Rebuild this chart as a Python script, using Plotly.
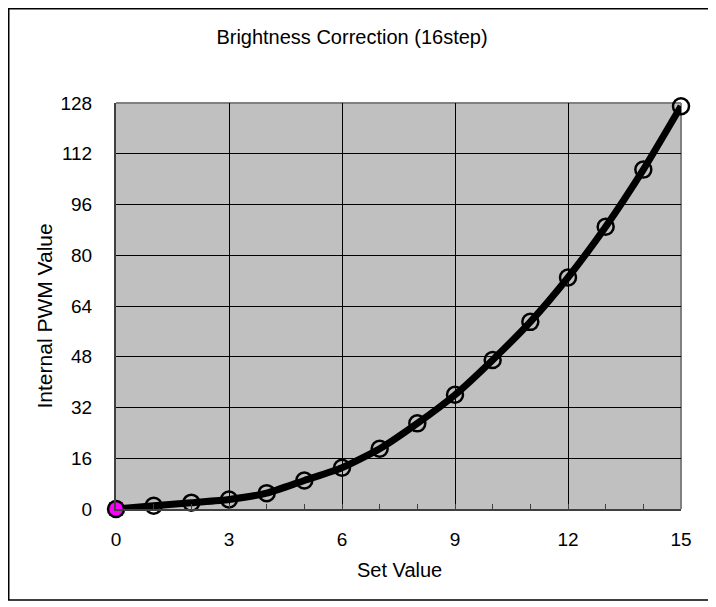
import plotly.graph_objects as go

set_values = list(range(16))
pwm_values = [0, 1, 2, 3, 5, 9, 13, 19, 27, 36, 47, 59, 73, 89, 107, 127]
x_ticks = [0, 3, 6, 9, 12, 15]
y_ticks = [0, 16, 32, 48, 64, 80, 96, 112, 128]
start_x = [0]
start_y = [0]

FONT = "Liberation Sans, Arial, sans-serif"

# figure is placed by the page at an 8px offset; size it to fill the window
W, H = 708, 599
L, T, R, B = 108, 95, 35, 98
pw, ph = W - L - R, H - T - B


def px(fx):
    return (fx - L) / pw


def py(fy):
    return (H - B - fy) / ph


fig = go.Figure()

# magenta start marker (square behind the first circle)
fig.add_trace(go.Scatter(
    x=start_x, y=start_y, mode="markers",
    marker=dict(symbol="square", size=14, color="#ff00ff", line=dict(width=0)),
    cliponaxis=False, showlegend=False, hoverinfo="skip"))

marker_fill = ["#ff00ff"] + ["rgba(0,0,0,0)"] * (len(set_values) - 1)
fig.add_trace(go.Scatter(
    x=set_values, y=pwm_values, mode="lines+markers",
    line=dict(color="black", width=7, shape="spline", smoothing=0.6),
    marker=dict(symbol="circle", size=16, color=marker_fill,
                line=dict(color="black", width=2.5)),
    cliponaxis=False, showlegend=False))

fig.update_layout(
    width=W, height=H,
    margin=dict(l=L, r=R, t=T, b=B),
    paper_bgcolor="white",
    plot_bgcolor="#c0c0c0",
    font=dict(family=FONT, size=19, color="black"),
    title=dict(text="Brightness Correction (16step)", x=344 / W, xanchor="center",
               y=1 - 28.5 / H, yanchor="middle", yref="container",
               font=dict(family=FONT, size=20, color="black")),
)

fig.update_xaxes(
    range=[0, 15], tickvals=x_ticks, ticktext=[str(v) for v in x_ticks],
    showgrid=True, gridcolor="black", gridwidth=1,
    ticks="inside", ticklen=5, tickcolor="#404040", tickwidth=1,
    minor=dict(dtick=1, ticks="inside", ticklen=5, tickcolor="#404040", showgrid=False),
    showline=True, linecolor="#404040", linewidth=2, mirror=False,
    ticklabelstandoff=12, zeroline=False,
    tickfont=dict(family=FONT, size=19),
)
fig.update_yaxes(
    range=[0, 128], tickvals=y_ticks, ticktext=[str(v) for v in y_ticks],
    showgrid=True, gridcolor="black", gridwidth=1,
    ticks="", showline=True, linecolor="#404040", linewidth=2,
    ticklabelstandoff=18, zeroline=False,
    tickfont=dict(family=FONT, size=19),
)

# top and right plot border (gray)
fig.add_shape(type="line", xref="paper", yref="paper", x0=0, x1=1, y0=1, y1=1,
              line=dict(color="#808080", width=2), layer="below")
fig.add_shape(type="line", xref="paper", yref="paper", x0=1, x1=1, y0=0, y1=1,
              line=dict(color="#808080", width=2), layer="below")

# outer chart border
fig.add_shape(type="rect", xref="paper", yref="paper",
              x0=px(0.75), x1=px(706), y0=py(592), y1=py(0.75),
              line=dict(color="black", width=1.5), fillcolor="rgba(0,0,0,0)")

fig.add_annotation(text="Set Value", xref="paper", yref="paper",
                   x=px(391), y=py(562),
                   showarrow=False, xanchor="center", yanchor="middle",
                   font=dict(family=FONT, size=20, color="black"))
fig.add_annotation(text="Internal PWM Value", xref="paper", yref="paper",
                   x=px(35.5), y=py(308), textangle=-90,
                   showarrow=False, xanchor="center", yanchor="middle",
                   font=dict(family=FONT, size=21, color="black"))

fig.write_html("out.html")
